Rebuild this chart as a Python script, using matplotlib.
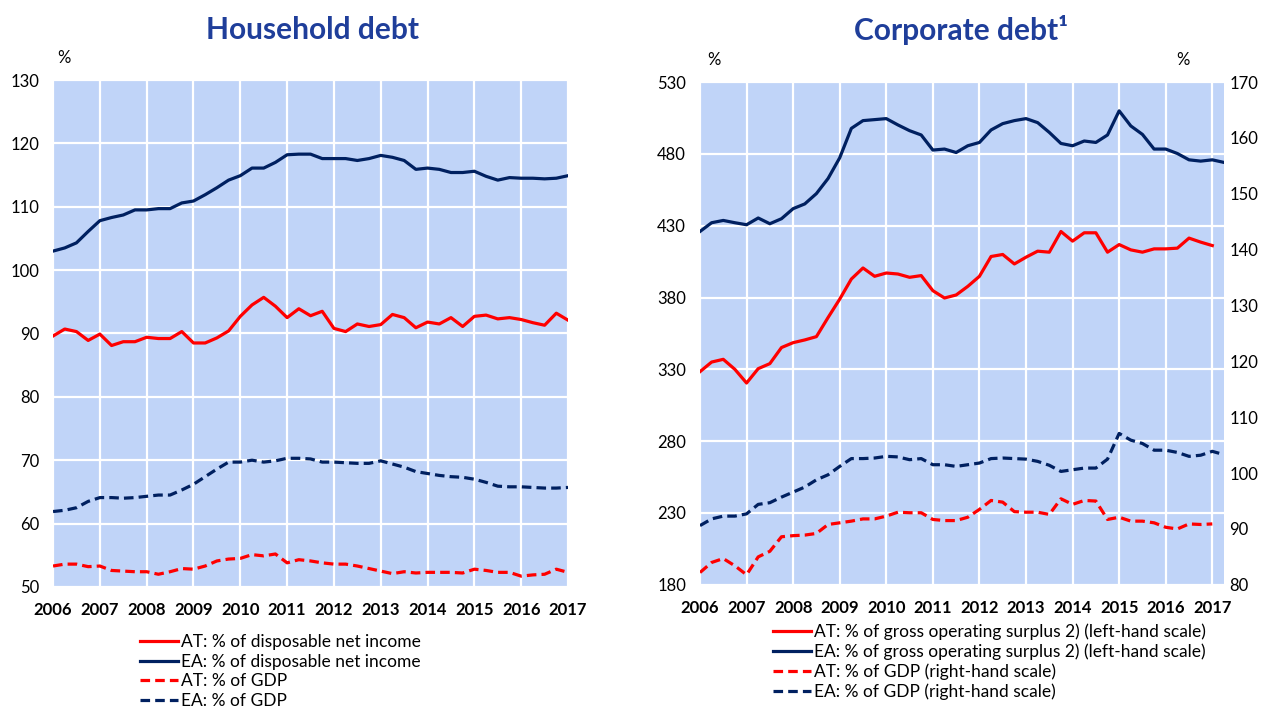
import numpy as np
import matplotlib.pyplot as plt

# quarterly observations, 2006 Q1 onwards
# Household debt (left chart)
hh_at_income = [89.6, 90.7, 90.3, 88.9, 89.9, 88.1, 88.7, 88.7, 89.4, 89.2, 89.2, 90.3,
                88.5, 88.5, 89.3, 90.4, 92.7, 94.5, 95.7, 94.3, 92.5, 93.9, 92.8, 93.5,
                90.8, 90.3, 91.5, 91.1, 91.4, 93.0, 92.5, 90.9, 91.8, 91.5, 92.5, 91.1,
                92.7, 92.9, 92.3, 92.5, 92.2, 91.7, 91.3, 93.2, 92.1]
hh_ea_income = [103.0, 103.5, 104.3, 106.1, 107.8, 108.3, 108.7, 109.5, 109.5, 109.7, 109.7, 110.6,
                110.9, 111.9, 113.0, 114.2, 114.9, 116.1, 116.1, 117.0, 118.2, 118.3, 118.3, 117.6,
                117.6, 117.6, 117.3, 117.6, 118.1, 117.8, 117.3, 115.9, 116.1, 115.9, 115.4, 115.4,
                115.6, 114.8, 114.2, 114.6, 114.5, 114.5, 114.4, 114.5, 114.9]
hh_at_gdp = [53.3, 53.6, 53.6, 53.2, 53.3, 52.6, 52.5, 52.4, 52.4, 52.0, 52.4, 52.9,
             52.8, 53.3, 54.1, 54.4, 54.5, 55.1, 54.9, 55.2, 53.8, 54.3, 54.1, 53.8,
             53.6, 53.6, 53.3, 52.9, 52.5, 52.1, 52.4, 52.2, 52.3, 52.3, 52.3, 52.2,
             52.8, 52.6, 52.3, 52.3, 51.7, 51.9, 52.0, 52.8, 52.3]
hh_ea_gdp = [61.9, 62.1, 62.5, 63.5, 64.1, 64.1, 64.0, 64.1, 64.3, 64.5, 64.5, 65.3,
             66.2, 67.4, 68.6, 69.7, 69.7, 70.0, 69.7, 69.9, 70.3, 70.3, 70.2, 69.7,
             69.7, 69.6, 69.5, 69.5, 69.9, 69.4, 68.9, 68.2, 67.9, 67.6, 67.4, 67.3,
             67.0, 66.5, 65.9, 65.8, 65.8, 65.7, 65.6, 65.6, 65.7]

# Corporate debt (right chart)
corp_at_gos = [328.4, 335.1, 337.0, 330.0, 320.5, 330.5, 334.0, 345.2, 348.6, 350.5, 352.8, 366.1,
               378.9, 392.9, 400.6, 394.8, 397.1, 396.4, 394.1, 395.3, 384.8, 379.7, 381.8, 387.8,
               394.8, 408.6, 410.0, 403.4, 408.1, 412.3, 411.6, 426.0, 419.3, 425.1, 425.1, 411.6,
               416.9, 413.2, 411.6, 413.9, 413.9, 414.4, 421.4, 418.6, 416.2]
corp_ea_gos = [426.0, 432.1, 433.7, 432.1, 430.7, 435.4, 431.4, 434.9, 441.9, 445.2, 452.4, 462.9,
               477.3, 497.8, 503.2, 503.9, 504.6, 500.2, 496.2, 493.2, 482.7, 483.4, 481.0, 485.7,
               488.0, 496.7, 501.1, 503.2, 504.6, 501.8, 495.0, 487.3, 485.7, 489.0, 488.0, 493.2,
               510.0, 499.5, 493.6, 483.4, 483.4, 480.3, 475.9, 475.0, 475.9, 474.1]
corp_at_gdp = [82.2, 84.0, 84.7, 83.4, 81.8, 85.0, 86.0, 88.6, 88.8, 88.9, 89.2, 90.8,
               91.1, 91.4, 91.8, 91.8, 92.3, 93.0, 92.9, 92.9, 91.7, 91.5, 91.5, 92.1,
               93.5, 95.1, 94.8, 93.1, 93.0, 93.0, 92.6, 95.4, 94.4, 95.1, 95.0, 91.7,
               92.1, 91.4, 91.4, 91.1, 90.3, 90.0, 90.9, 90.8, 90.9]
corp_ea_gdp = [90.6, 91.8, 92.3, 92.3, 92.7, 94.4, 94.7, 95.7, 96.6, 97.5, 98.8, 99.7,
               101.2, 102.6, 102.6, 102.7, 103.0, 102.9, 102.4, 102.6, 101.5, 101.5, 101.2, 101.5,
               101.8, 102.6, 102.7, 102.6, 102.5, 102.1, 101.4, 100.3, 100.6, 100.9, 100.9, 102.5,
               107.1, 105.9, 105.3, 104.1, 104.1, 103.7, 103.0, 103.2, 103.9, 103.3]

years = list(range(2006, 2018))

hh_labels = ["AT: % of disposable net income", "EA: % of disposable net income",
             "AT: % of GDP", "EA: % of GDP"]
corp_labels = ["AT: % of gross operating surplus 2) (left-hand scale)",
               "EA: % of gross operating surplus 2) (left-hand scale)",
               "AT: % of GDP (right-hand scale)",
               "EA: % of GDP (right-hand scale)"]

RED = "#FF0000"
NAVY = "#002060"
BG = "#C0D4F8"
TITLE_BLUE = "#1F3E9A"
DASH = (0, (3, 1.6))
LW = 2.3


def quarters(values):
    return 2006 + np.arange(len(values)) / 4.0


def style_axis(ax, xmax):
    ax.set_facecolor(BG)
    for s in ax.spines.values():
        s.set_visible(False)
    ax.set_xlim(2006, xmax)
    ax.set_xticks(years)
    ax.set_xticklabels([str(y) for y in years], fontweight="bold", fontsize=12)
    ax.grid(True, color="white", linewidth=1.6)
    ax.set_axisbelow(True)
    ax.tick_params(axis="both", length=0, labelsize=12)
    ax.tick_params(axis="x", pad=11)
    ax.tick_params(axis="y", pad=10)


def add_legend(fig, handles, labels, anchor):
    fig.legend(handles, labels, loc="upper left", bbox_to_anchor=anchor,
               frameon=False, fontsize=12.5, handlelength=2.2, handletextpad=0.2,
               labelspacing=0.2, borderpad=0, borderaxespad=0)


def main():
    plt.rcParams["font.family"] = ["Lato", "DejaVu Sans"]
    fig = plt.figure(figsize=(12.69, 7.08), dpi=100)

    # household debt
    ax1 = fig.add_axes([0.0418, 0.171, 0.4058, 0.716])
    style_axis(ax1, 2017)
    ax1.set_ylim(50, 130)
    ax1.set_yticks(range(50, 131, 10))
    h1 = ax1.plot(quarters(hh_at_income), hh_at_income, color=RED, lw=LW)
    h2 = ax1.plot(quarters(hh_ea_income), hh_ea_income, color=NAVY, lw=LW)
    h3 = ax1.plot(quarters(hh_at_gdp), hh_at_gdp, color=RED, lw=LW, linestyle=DASH)
    h4 = ax1.plot(quarters(hh_ea_gdp), hh_ea_gdp, color=NAVY, lw=LW, linestyle=DASH)
    fig.text(0.246, 0.957, "Household debt", ha="center", va="center",
             fontsize=21.5, fontweight="bold", color=TITLE_BLUE)
    fig.text(0.050, 0.918, "%", ha="center", va="center", fontsize=12)
    add_legend(fig, h1 + h2 + h3 + h4, hh_labels, (0.110, 0.104))

    # corporate debt, two scales
    ax2 = fig.add_axes([0.5516, 0.174, 0.4129, 0.710])
    style_axis(ax2, 2017.25)
    ax2.set_ylim(180, 530)
    ax2.set_yticks(range(180, 531, 50))
    ax3 = ax2.twinx()
    ax3.set_ylim(80, 170)
    ax3.set_yticks(range(80, 171, 10))
    for s in ax3.spines.values():
        s.set_visible(False)
    ax3.tick_params(axis="y", length=0, labelsize=12, pad=4)
    g1 = ax2.plot(quarters(corp_at_gos), corp_at_gos, color=RED, lw=LW)
    g2 = ax2.plot(quarters(corp_ea_gos), corp_ea_gos, color=NAVY, lw=LW)
    g3 = ax3.plot(quarters(corp_at_gdp), corp_at_gdp, color=RED, lw=LW, linestyle=DASH)
    g4 = ax3.plot(quarters(corp_ea_gdp), corp_ea_gdp, color=NAVY, lw=LW, linestyle=DASH)
    fig.text(0.757, 0.957, "Corporate debt\u00b9", ha="center", va="center",
             fontsize=21.5, fontweight="bold", color=TITLE_BLUE)
    fig.text(0.5626, 0.915, "%", ha="center", va="center", fontsize=12)
    fig.text(0.9322, 0.915, "%", ha="center", va="center", fontsize=12)
    add_legend(fig, g1 + g2 + g3 + g4, corp_labels, (0.609, 0.119))

    fig.savefig("out.png", dpi=100)
    plt.close(fig)


if __name__ == "__main__":
    main()
